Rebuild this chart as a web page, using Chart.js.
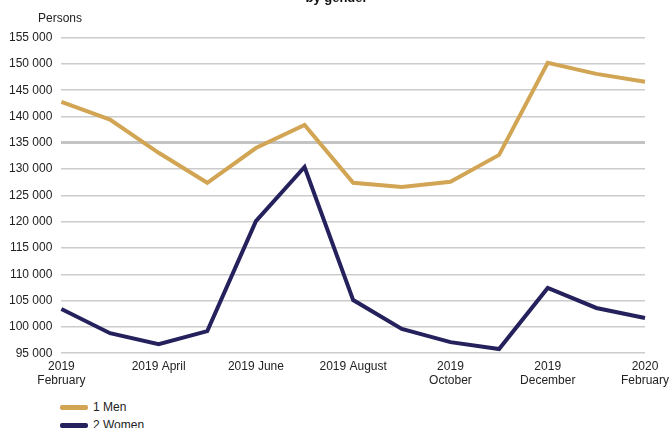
<!DOCTYPE html>
<html>
<head>
<meta charset="utf-8">
<script src="https://cdn.jsdelivr.net/npm/chart.js@4"></script>
<style>
  html, body { margin: 0; padding: 0; background: #fff; }
  body { width: 670px; height: 428px; position: relative; overflow: hidden; font-family: "Liberation Sans", Arial, sans-serif; }
  #wrap { position: absolute; left: 0; top: -9px; width: 675px; height: 403px; }
  #ytitle { position: absolute; left: 38px; top: 11px; font-size: 12px; color: #222; }
  #legend { position: absolute; left: 60px; top: 398px; font-size: 12px; color: #222; }
  .item { display: flex; align-items: center; height: 18px; }
  .sw { width: 28px; height: 5px; border-radius: 2px; margin-right: 5px; }
</style>
</head>
<body>
<div id="wrap"><canvas id="c"></canvas></div>
<div id="ytitle">Persons</div>
<div id="legend"></div>
<script>
const categories = [
  ["2019","February"], ["2019","March"], ["2019 April"], ["2019","May"], ["2019 June"], ["2019","July"],
  ["2019 August"], ["2019","September"], ["2019","October"], ["2019","November"], ["2019","December"],
  ["2020","January"], ["2020","February"]
];
const shownTicks = [0, 2, 4, 6, 8, 10, 12];
const seriesNames = ["1 Men", "2 Women"];
const men =   [142800, 139400, 133100, 127400, 134000, 138400, 127400, 126600, 127600, 132700, 150200, 148100, 146600];
const women = [103400,  98800,  96700,  99200, 120100, 130400, 105100,  99600,  97100,  95800, 107400, 103600, 101700];
const colors = ["#d1a554", "#25215c"];
const yMin = 95000, yMax = 155000, yStep = 5000;
const titleText = "by gender";

const fmt = v => String(v).replace(/\B(?=(\d{3})+(?!\d))/g, " ");

const chart = new Chart(document.getElementById("c"), {
  type: "line",
  data: {
    labels: categories,
    datasets: [
      { label: seriesNames[0], data: men, borderColor: colors[0], backgroundColor: colors[0], borderWidth: 4, pointRadius: 0, tension: 0 },
      { label: seriesNames[1], data: women, borderColor: colors[1], backgroundColor: colors[1], borderWidth: 4, pointRadius: 0, tension: 0 }
    ]
  },
  options: {
    responsive: true,
    maintainAspectRatio: false,
    animation: false,
    layout: { padding: { left: 0, right: 2, top: 0, bottom: 0 } },
    plugins: {
      legend: { display: false },
      tooltip: { enabled: false },
      title: {
        display: true, text: titleText, color: "#111",
        font: { family: "Liberation Sans, Arial, sans-serif", size: 13, weight: "bold" },
        padding: { top: 0, bottom: 31 }
      }
    },
    scales: {
      x: {
        offset: false,
        grid: { display: false, drawTicks: false },
        border: { display: false },
        ticks: {
          autoSkip: false, maxRotation: 0, minRotation: 0, padding: 6,
          color: "#222", font: { family: "Liberation Sans, Arial, sans-serif", size: 12 },
          callback: (v, i) => shownTicks.includes(i) ? categories[i] : ""
        }
      },
      y: {
        min: yMin, max: yMax,
        grid: {
          color: ctx => ctx.tick && ctx.tick.value === 135000 ? "#c4c4c4" : "#cccccc",
          lineWidth: ctx => ctx.tick && ctx.tick.value === 135000 ? 3 : 1.5,
          drawTicks: false
        },
        border: { display: false },
        ticks: {
          stepSize: yStep, padding: 9, color: "#222",
          font: { family: "Liberation Sans, Arial, sans-serif", size: 12 },
          callback: v => fmt(v)
        }
      }
    }
  }
});

const lg = document.getElementById("legend");
seriesNames.forEach((n, i) => {
  const d = document.createElement("div"); d.className = "item";
  d.innerHTML = '<div class="sw" style="background:' + colors[i] + '"></div><span>' + n + '</span>';
  lg.appendChild(d);
});
</script>
</body>
</html>
